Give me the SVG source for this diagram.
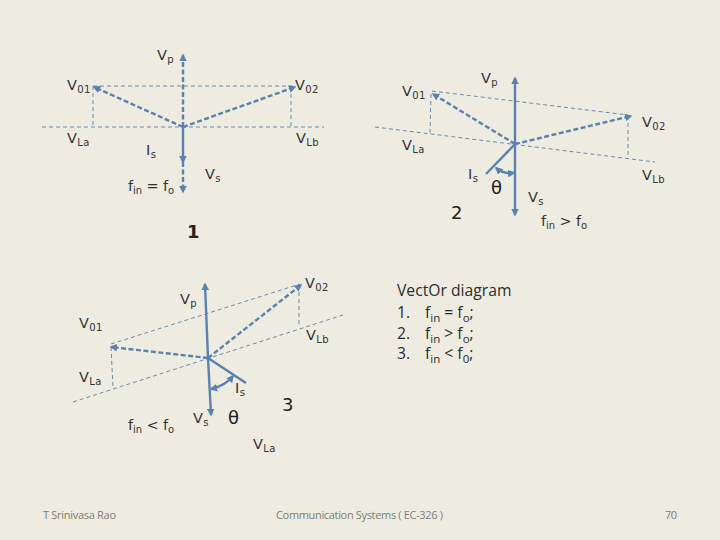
<svg xmlns="http://www.w3.org/2000/svg" width="720" height="540" viewBox="0 0 720 540">
<style>
.g{fill:none;stroke:#6a8bae;stroke-width:1;stroke-dasharray:4 3}
.d{fill:none;stroke:#5a82ae;stroke-width:2.4;stroke-dasharray:5 2.5}
.s{fill:none;stroke:#5a82ae;stroke-width:2.4}
.a{marker-end:url(#h)}
.b{marker-start:url(#h);marker-end:url(#h)}
text{font-family:"DejaVu Sans","Liberation Sans",sans-serif;fill:#333}
.l{font-size:14.5px;letter-spacing:.4px}
.l tspan{font-size:10px}
.l tspan.m{font-size:14.5px}
.e{letter-spacing:-.1px}
.n{font-size:18px;fill:#222}
.o{font-weight:bold}
.t{font-family:"Open Sans","Liberation Sans",sans-serif;font-size:15.7px;fill:#2c2c2c}
.t tspan{font-size:11.5px}
.t tspan.m{font-size:15.7px}
.f{font-family:"Open Sans","Liberation Sans",sans-serif;font-size:11px;fill:#7c7c76}
</style>
<defs>
<marker id="h" viewBox="0 0 10 10" refX="8" refY="5" markerWidth="3.2" markerHeight="3.2" orient="auto-start-reverse"><path d="M0 0L10 5L0 10Z" fill="#5a82ae"/></marker>
</defs>
<rect width="720" height="540" fill="#EEECE1"/>
<g id="connectors">
<path class="g" d="M42 127H324M93 86H295M93 86V127M291 87V127"/>
<path class="d a" d="M183 127L183 55"/>
<path class="d a" d="M183 127L94 87"/>
<path class="d a" d="M183 127L295 87"/>
<path class="s a" d="M183 127L183 162"/>
<path class="d a" d="M183 162L183 192"/>
<path class="g" d="M432 91L628 115M375 127L655 162M431 94L430 134M628 116V156"/>
<path class="s a" d="M515 144L515 78"/>
<path class="s a" d="M515 144L515 215"/>
<path class="d a" d="M515 144L433 94"/>
<path class="d a" d="M515 144L631 116"/>
<path class="s" d="M515 144L486 174"/>
<path class="s b" d="M496 168Q503 174 514 173"/>
<path class="g" d="M111 344L300 284M73 402L343 315M111 347L113 387M299 285V327"/>
<path class="s a" d="M208 358L205 284"/>
<path class="s a" d="M208 358L211 415"/>
<path class="d a" d="M208 358L301 285"/>
<path class="d a" d="M208 358L111 347"/>
<path class="s" d="M208 358L246 383"/>
<path class="s b" d="M211 389Q225 386 233 376"/>
</g>
<g id="diagram-1">
<text class="l" x="157" y="60">V<tspan dy="3">p</tspan></text>
<text class="l" x="67" y="90">V<tspan dy="3">01</tspan></text>
<text class="l" x="295" y="90">V<tspan dy="3">02</tspan></text>
<text class="l" x="67" y="143">V<tspan dy="3">La</tspan></text>
<text class="l" x="296" y="143">V<tspan dy="3">Lb</tspan></text>
<text class="l" x="146" y="155">I<tspan dy="3">s</tspan></text>
<text class="l" x="205" y="179">V<tspan dy="3">s</tspan></text>
<text class="l e" x="128" y="191">f<tspan dy="3">in</tspan><tspan class="m" dy="-3"> = f</tspan><tspan dy="3">o</tspan></text>
<text class="n o" x="187" y="238">1</text>
</g>
<g id="diagram-2">
<text class="l" x="481" y="83">V<tspan dy="3">p</tspan></text>
<text class="l" x="402" y="96">V<tspan dy="3">01</tspan></text>
<text class="l" x="642" y="127">V<tspan dy="3">02</tspan></text>
<text class="l" x="402" y="150">V<tspan dy="3">La</tspan></text>
<text class="l" x="642" y="180">V<tspan dy="3">Lb</tspan></text>
<text class="l" x="468" y="179">I<tspan dy="3">s</tspan></text>
<text class="n" x="491" y="194">θ</text>
<text class="n" x="451" y="219">2</text>
<text class="l" x="528" y="202">V<tspan dy="3">s</tspan></text>
<text class="l e" x="541" y="226">f<tspan dy="3">in</tspan><tspan class="m" dy="-3"> &gt; f</tspan><tspan dy="3">o</tspan></text>
</g>
<g id="diagram-3">
<text class="l" x="305" y="288">V<tspan dy="3">02</tspan></text>
<text class="l" x="180" y="304">V<tspan dy="3">p</tspan></text>
<text class="l" x="79" y="328">V<tspan dy="3">01</tspan></text>
<text class="l" x="306" y="340">V<tspan dy="3">Lb</tspan></text>
<text class="l" x="79" y="382">V<tspan dy="3">La</tspan></text>
<text class="l" x="235" y="393">I<tspan dy="3">s</tspan></text>
<text class="n" x="228" y="424">θ</text>
<text class="n" x="282" y="411">3</text>
<text class="l" x="193" y="423">V<tspan dy="3">s</tspan></text>
<text class="l e" x="128" y="430">f<tspan dy="3">in</tspan><tspan class="m" dy="-3"> &lt; f</tspan><tspan dy="3">o</tspan></text>
<text class="l" x="253" y="449">V<tspan dy="3">La</tspan></text>
</g>
<g id="legend">
<text class="t" x="397" y="296">VectOr diagram</text>
<text class="t" x="397" y="318">1.</text>
<text class="t" x="425" y="318">f<tspan dy="4">in</tspan><tspan class="m" dy="-4"> = f</tspan><tspan dy="4">o</tspan><tspan class="m" dy="-4">;</tspan></text>
<text class="t" x="397" y="339">2.</text>
<text class="t" x="425" y="339">f<tspan dy="4">in</tspan><tspan class="m" dy="-4"> &gt; f</tspan><tspan dy="4">o</tspan><tspan class="m" dy="-4">;</tspan></text>
<text class="t" x="397" y="359">3.</text>
<text class="t" x="425" y="359">f<tspan dy="4">in</tspan><tspan class="m" dy="-4"> &lt; f</tspan><tspan dy="4">0</tspan><tspan class="m" dy="-4">;</tspan></text>
</g>
<g id="footer">
<text class="f" x="43" y="519" textLength="73">T Srinivasa Rao</text>
<text class="f" x="276" y="519" textLength="167">Communication Systems ( EC-326 )</text>
<text class="f" x="665" y="519" textLength="12">70</text>
</g>
</svg>
